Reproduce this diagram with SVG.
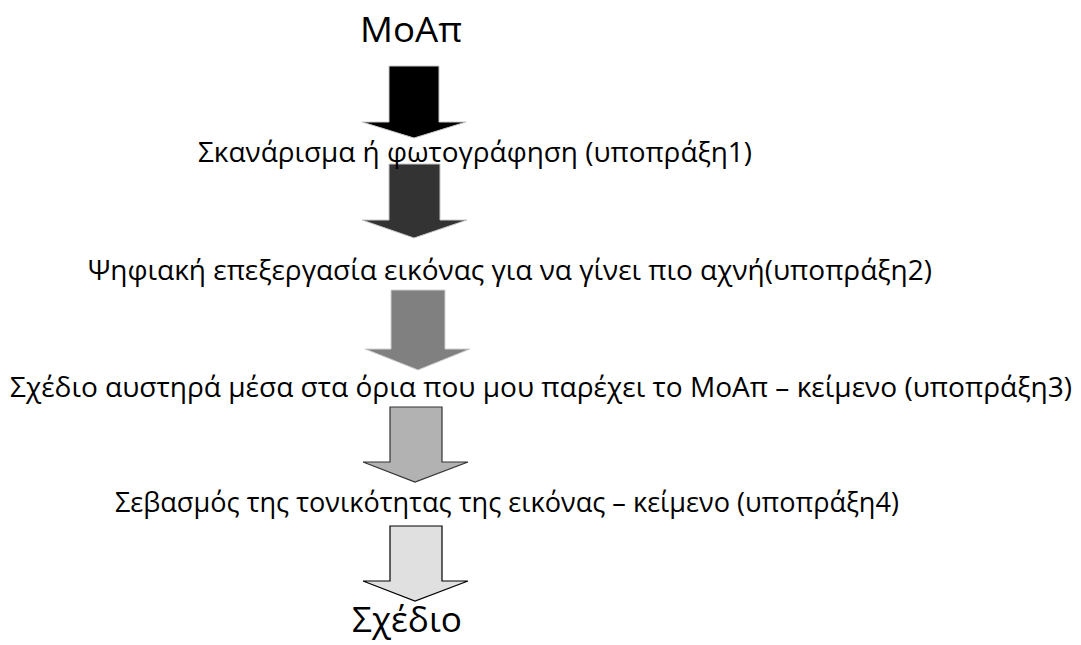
<svg xmlns="http://www.w3.org/2000/svg" width="1081" height="645" viewBox="0 0 1081 645">
<style>
.t{font-family:"Open Sans","Noto Sans","DejaVu Sans",sans-serif;fill:#000;}
.b{font-size:27px;}
.h{font-size:35px;}
.a1{fill:#000;stroke:#c8c8c8;stroke-width:1;}
.a2{fill:#333;stroke:#c8c8c8;stroke-width:1;}
.a3{fill:#808080;stroke:#d0d0d0;stroke-width:1;}
.a4{fill:#b2b2b2;stroke:#333;stroke-width:1.2;}
.a5{fill:#e0e0e0;stroke:#000;stroke-width:1.2;}
</style>
<rect width="1081" height="645" fill="#fff"/>
<g id="connectors">
<polygon class="a1" points="389,66 439,66 439,122 466,122 414,138 362,122 389,122"/>
<polygon class="a2" points="389,164 440,164 440,220 467,220 414,238 362,220 389,220"/>
<polygon class="a3" points="391,290 445,290 445,349 470,349 418,370 365,349 391,349"/>
<polygon class="a4" points="390,407 442,407 442,462 468,462 415,482 363,462 390,462"/>
<polygon class="a5" points="390,526 442,526 442,581 468,581 415,601 363,581 390,581"/>
</g>
<g id="node-start"><text class="t h" x="360" y="42" textLength="102" lengthAdjust="spacingAndGlyphs">ΜοΑπ</text></g>
<g id="node-step1"><text class="t b" x="198" y="162" textLength="554" lengthAdjust="spacingAndGlyphs">Σκανάρισμα ή φωτογράφηση (υποπράξη1)</text></g>
<g id="node-step2"><text class="t b" x="88" y="280" textLength="844" lengthAdjust="spacingAndGlyphs">Ψηφιακή επεξεργασία εικόνας για να γίνει πιο αχνή(υποπράξη2)</text></g>
<g id="node-step3"><text class="t b" x="10" y="397" textLength="1062" lengthAdjust="spacingAndGlyphs">Σχέδιο αυστηρά μέσα στα όρια που μου παρέχει το ΜοΑπ – κείμενο (υποπράξη3)</text></g>
<g id="node-step4"><text class="t b" x="115" y="512" textLength="784" lengthAdjust="spacingAndGlyphs">Σεβασμός της τονικότητας της εικόνας – κείμενο (υποπράξη4)</text></g>
<g id="node-end"><text class="t h" x="352" y="632" textLength="110" lengthAdjust="spacingAndGlyphs">Σχέδιο</text></g>
</svg>
